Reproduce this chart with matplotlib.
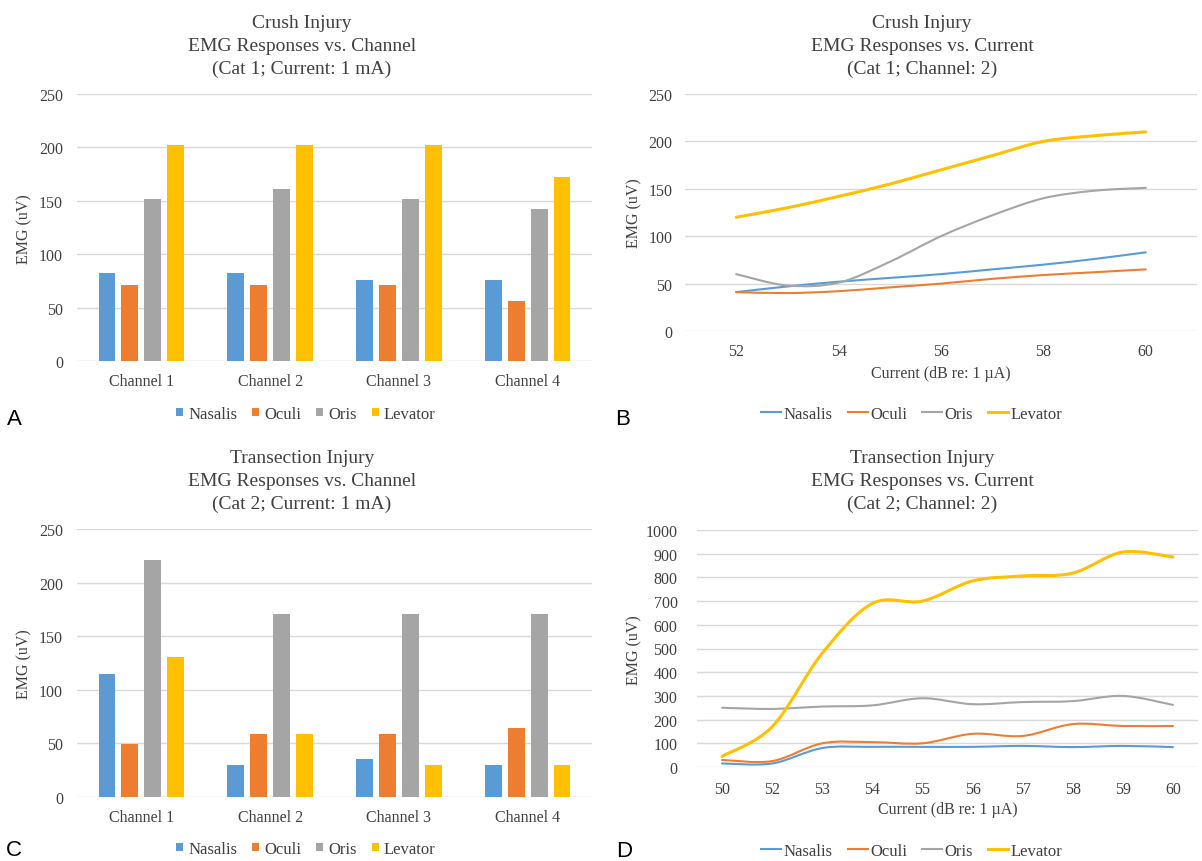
import matplotlib.pyplot as plt
from matplotlib.path import Path
from matplotlib.patches import PathPatch
import numpy as np

# ---- data ----
muscles = ['Nasalis', 'Oculi', 'Oris', 'Levator']
colors = ['#5B9BD5', '#ED7D31', '#A5A5A5', '#FFC000']
channels = ['Channel 1', 'Channel 2', 'Channel 3', 'Channel 4']

crush_nasalis = [82, 82, 76, 76]
crush_oculi = [71, 71, 71, 56]
crush_oris = [152, 161, 152, 142]
crush_levator = [202, 202, 202, 172]

trans_nasalis = [115, 30, 35, 30]
trans_oculi = [49, 59, 59, 64]
trans_oris = [221, 171, 171, 171]
trans_levator = [131, 59, 30, 30]

crush_current = [52, 53, 54, 55, 56, 57, 58, 59, 60]
crush_cur_nasalis = [41, 47, 52, 56, 60, 65, 70, 76, 83]
crush_cur_oculi = [41, 40, 42, 46, 50, 55, 59, 62, 65]
crush_cur_oris = [60, 48, 51, 73, 100, 122, 140, 148, 151]
crush_cur_levator = [120, 130, 142, 155, 170, 185, 200, 206, 210]

trans_current = ['50', '52', '53', '54', '55', '56', '57', '58', '59', '60']
trans_cur_nasalis = [15, 15, 80, 85, 85, 85, 89, 84, 89, 84]
trans_cur_oculi = [30, 25, 100, 105, 100, 140, 131, 181, 173, 173]
trans_cur_oris = [250, 245, 255, 260, 290, 265, 274, 278, 300, 262]
trans_cur_levator = [45, 170, 480, 690, 700, 785, 806, 818, 907, 886]

W, H = 1202, 862
TXT = '#404040'
GRID = '#D9D9D9'

plt.rcParams['font.family'] = 'Liberation Serif'
fig = plt.figure(figsize=(W / 100, H / 100), dpi=100)


def make_ax(x0, x1, ytop, ybot):
    ax = fig.add_axes([x0 / W, 1 - ybot / H, (x1 - x0) / W, (ybot - ytop) / H])
    for s in ax.spines.values():
        s.set_visible(False)
    ax.tick_params(length=0, colors=TXT, labelsize=11.5)
    ax.yaxis.grid(True, color=GRID, lw=1)
    ax.set_axisbelow(True)
    return ax


def titles(lines, xc, y0):
    for i, t in enumerate(lines):
        fig.text(xc / W, 1 - (y0 + i * 22.5) / H, t, ha='center', va='center',
                 fontsize=14, color=TXT)


def smooth_line(ax, x, y, color, lw, name):
    # Excel-style smoothed line: cubic Bezier through each data point
    x = np.asarray(x, float)
    y = np.asarray(y, float)
    pts = np.column_stack([x, y])
    n = len(pts)
    verts = [pts[0]]
    codes = [Path.MOVETO]
    for i in range(n - 1):
        p0 = pts[max(i - 1, 0)]
        p1, p2 = pts[i], pts[i + 1]
        p3 = pts[min(i + 2, n - 1)]
        verts += [p1 + (p2 - p0) / 6, p2 - (p3 - p1) / 6, p2]
        codes += [Path.CURVE4] * 3
    ax.add_patch(PathPatch(Path(verts, codes), fill=False, edgecolor=color, lw=lw,
                           capstyle='round', joinstyle='round', zorder=2))
    ax.plot([], [], color=color, lw=lw, label=name)


def bar_panel(x0, x1, ytop, ybot, series):
    ax = make_ax(x0, x1, ytop, ybot)
    x = np.arange(len(channels))
    step, width = 0.178, 0.132
    for i, (vals, c, name) in enumerate(zip(series, colors, muscles)):
        ax.bar(x + (i - 1.5) * step, vals, width, color=c, label=name, zorder=2)
    ax.set_xlim(-0.5, 3.5)
    ax.set_ylim(0, 250)
    ax.set_yticks(range(0, 251, 50))
    ax.set_xticks(x)
    ax.set_xticklabels(channels)
    ax.tick_params(axis='x', pad=9)
    ax.tick_params(axis='y', pad=10)
    return ax


def legend(ax, y, xc, kind):
    h, l = ax.get_legend_handles_labels()
    if kind == 'bar':
        kw = dict(handlelength=0.42, handleheight=0.42, handletextpad=0.3)
    else:
        kw = dict(handlelength=1.2, handletextpad=0.15)
    fig.legend(h, l, loc='center', bbox_to_anchor=(xc / W, 1 - y / H), ncol=4,
               frameon=False, fontsize=12, columnspacing=0.9, labelcolor=TXT,
               borderpad=0, **kw)


def ylabel(x, y):
    fig.text(x / W, 1 - y / H, 'EMG (uV)', rotation=90, ha='center', va='center',
             fontsize=11.5, color=TXT)


# ---- A ----
axA = bar_panel(77, 592, 95, 362, [crush_nasalis, crush_oculi, crush_oris, crush_levator])
titles(['Crush Injury', 'EMG Responses vs. Channel', '(Cat 1; Current: 1 mA)'], 302, 24)
legend(axA, 415, 306, 'bar')
ylabel(24, 229)

# ---- C ----
axC = bar_panel(77, 592, 530, 798, [trans_nasalis, trans_oculi, trans_oris, trans_levator])
titles(['Transection Injury', 'EMG Responses vs. Channel', '(Cat 2; Current: 1 mA)'], 302, 459)
legend(axC, 850, 306, 'bar')
ylabel(24, 664)

# ---- B ----
axB = make_ax(685, 1197, 95, 332)
for vals, c, name in zip([crush_cur_nasalis, crush_cur_oculi, crush_cur_oris, crush_cur_levator],
                         colors, muscles):
    smooth_line(axB, crush_current, vals, c, 2.2 if name == 'Levator' else 1.5, name)
axB.set_xlim(51, 61)
axB.set_ylim(0, 250)
axB.set_xticks(range(52, 61, 2))
axB.set_yticks(range(0, 251, 50))
axB.tick_params(axis='x', pad=9)
axB.tick_params(axis='y', pad=9)
axB.set_xlabel('Current (dB re: 1 µA)', color=TXT, fontsize=11.5, labelpad=4)
titles(['Crush Injury', 'EMG Responses vs. Current', '(Cat 1; Channel: 2)'], 922, 24)
legend(axB, 415, 912, 'line')
ylabel(634, 213)

# ---- D ----
axD = make_ax(697, 1198, 531, 768)
xd = np.arange(len(trans_current))
for vals, c, name in zip([trans_cur_nasalis, trans_cur_oculi, trans_cur_oris, trans_cur_levator],
                         colors, muscles):
    smooth_line(axD, xd, vals, c, 2.2 if name == 'Levator' else 1.5, name)
axD.set_xlim(-0.5, len(trans_current) - 0.5)
axD.set_ylim(0, 1000)
axD.set_xticks(xd)
axD.set_xticklabels(trans_current)
axD.set_yticks(range(0, 1001, 100))
axD.tick_params(axis='x', pad=10)
axD.tick_params(axis='y', pad=14)
axD.set_xlabel('Current (dB re: 1 µA)', color=TXT, fontsize=11.5, labelpad=3)
titles(['Transection Injury', 'EMG Responses vs. Current', '(Cat 2; Channel: 2)'], 922, 459)
legend(axD, 852, 912, 'line')
ylabel(634, 650)

# panel letters
for letter, (px, py) in zip('ABCD', [(14, 420), (623, 420), (14, 851), (624, 852)]):
    fig.text(px / W, 1 - py / H, letter, fontsize=16, family='Liberation Sans',
             ha='center', va='center', color='black')

fig.savefig('out.png', dpi=100, facecolor='white')
